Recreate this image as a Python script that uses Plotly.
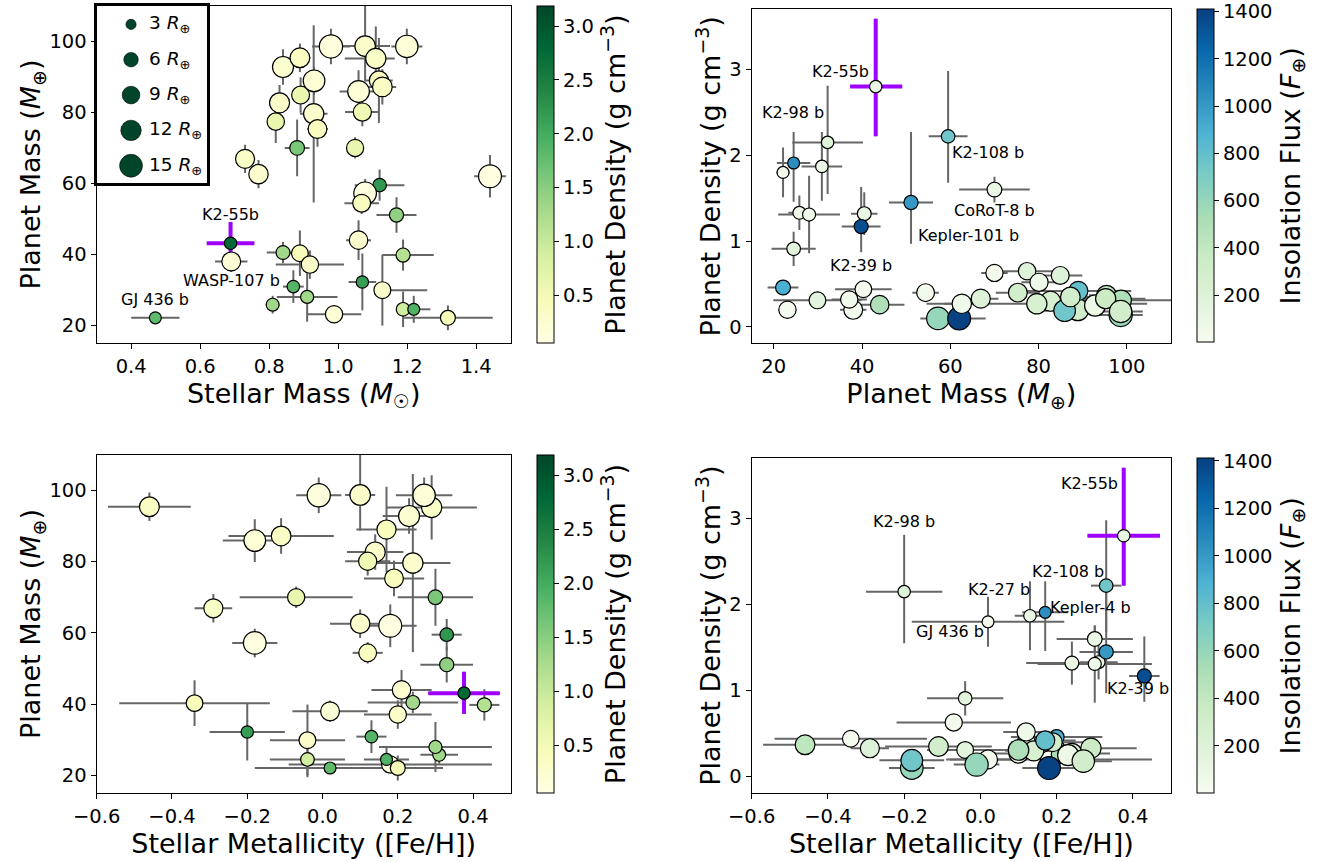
import numpy as np
import plotly.graph_objects as go

W, H = 1326, 862
nan = float("nan")

# ---------------- data ----------------
planet = [
    "GJ 436 b", "K2-55b", "WASP-107 b", "", "", "", "", "K2-27 b", "", "",
    "", "K2-98 b", "", "K2-39 b", "", "Kepler-4 b", "", "Kepler-101 b", "K2-108 b", "",
    "", "", "", "", "CoRoT-8 b", "", "", "", "", "",
    "", "", "", "", "", "", "", "", "", "",
    "", ""]

stellar_mass = [
    0.47, 0.688, 0.69, 0.81, 0.84, 0.889, 0.918, 0.87, 0.91, 0.988,
    1.059, 1.07, 1.128, 1.188, 1.188, 1.219, 1.318, 1.169, 1.12, 1.078,
    1.068, 1.44, 0.73, 0.769, 0.881, 1.049, 0.819, 0.83, 0.891, 0.929,
    0.94, 0.93, 0.84, 0.889, 0.979, 1.078, 1.109, 1.059, 1.118, 1.128,
    1.07, 1.199]
stellar_mass_err_lo = [
    0.07, 0.069, 0.047, 0.02, 0.047, 0.03, 0.099, 0.03, 0.088, 0.079,
    0.036, 0.04, 0.01, 0.06, 0.02, 0.031, 0.13, 0.058, 0.072, 0.03,
    0.05, 0.046, 0.02, 0.02, 0.036, 0.02, 0.02, 0.02, 0.02, 0.04,
    0.03, 0.03, 0.02, 0.03, 0.055, 0.072, 0.09, 0.055, 0.04, 0.04,
    0.05, 0.045]
stellar_mass_err_hi = [
    0.07, 0.069, 0.047, 0.02, 0.047, 0.03, 0.099, 0.03, 0.088, 0.079,
    0.036, 0.04, 0.13, 0.089, 0.02, 0.048, 0.13, 0.058, 0.072, 0.03,
    0.05, 0.046, 0.02, 0.02, 0.036, 0.02, 0.02, 0.02, 0.02, 0.04,
    0.03, 0.03, 0.02, 0.03, 0.055, 0.072, 0.055, 0.055, 0.04, 0.04,
    0.05, 0.045]

planet_mass = [
    22.1, 43.1, 38.0, 25.8, 40.5, 40.3, 37.1, 30.9, 28.0, 23.1,
    44.0, 32.2, 29.9, 39.8, 24.5, 24.5, 22.1, 51.1, 59.5, 57.2,
    54.4, 62.0, 66.9, 62.6, 70.0, 70.0, 77.4, 82.7, 84.9, 79.6,
    75.3, 88.9, 92.8, 95.4, 98.6, 98.7, 95.2, 85.9, 89.0, 87.2,
    80.1, 98.6]
planet_mass_err_lo = [
    1.5, 5.8, 3.0, 2.5, 3.0, 6.4, 4.0, 4.6, 7.0, 2.0,
    5.6, 8.0, 10.0, 4.4, 5.0, 3.8, 3.5, 5.0, 4.4, 4.0,
    3.0, 6.0, 4.0, 4.0, 8.0, 3.0, 6.0, 5.0, 5.0, 25.0,
    5.0, 4.0, 5.0, 4.0, 5.0, 10.0, 9.0, 6.0, 12.0, 5.0,
    4.0, 5.0]
planet_mass_err_hi = [
    1.5, 6.0, 3.0, 2.5, 3.0, 6.4, 4.0, 4.6, 7.0, 2.0,
    5.6, 8.0, 10.0, 4.4, 5.0, 3.8, 3.5, 5.0, 4.4, 4.0,
    3.0, 6.0, 4.0, 4.0, 8.0, 3.0, 6.0, 5.0, 5.0, 25.0,
    5.0, 4.0, 5.0, 4.0, 5.0, 15.0, 9.0, 6.0, 12.0, 5.0,
    4.0, 5.0]

metallicity = [
    0.02, 0.376, 0.02, 0.31, 0.24, -0.34, 0.20, 0.13, 0.30, 0.18,
    0.21, -0.20, -0.04, 0.43, -0.04, 0.17, 0.20, 0.33, 0.33, -0.18,
    0.12, 0.18, -0.29, 0.10, 0.30, -0.07, nan, 0.14, nan, 0.24,
    0.19, nan, 0.23, -0.46, -0.01, 0.10, 0.29, -0.18, 0.17, -0.11,
    0.12, 0.27]
metallicity_err = [
    0.20, 0.095, 0.10, 0.05, 0.12, 0.20, 0.09, 0.04, 0.15, 0.27,
    0.08, 0.10, 0.10, 0.04, 0.10, 0.06, 0.12, 0.07, 0.04, 0.06,
    0.04, 0.07, 0.05, 0.08, 0.10, 0.15, nan, 0.075, nan, 0.10,
    0.08, nan, 0.07, 0.11, 0.06, 0.04, 0.12, 0.085, 0.08, 0.14,
    0.06, 0.075]

density = [
    1.80, 2.80, 0.20, 1.33, 1.32, 0.44, 0.32, 1.87, 1.31, 0.20,
    0.26, 2.15, 0.31, 1.17, 0.91, 1.91, 0.46, 1.45, 2.22, 0.10,
    0.40, 0.10, 0.33, 0.27, 1.60, 0.63, 0.65, 0.30, 0.60, 0.27,
    0.40, 0.20, 0.25, 0.37, 0.14, 0.31, 0.33, 0.19, 0.42, 0.35,
    0.52, 0.18]
density_err_lo = [
    0.29, 0.58, 0.03, 0.20, 0.25, 0.05, 0.05, 0.40, 0.45, 0.03,
    0.04, 0.60, 0.06, 0.30, 0.20, 0.45, 0.05, 0.48, 0.54, 0.02,
    0.04, 0.02, 0.04, 0.04, 0.15, 0.04, 0.04, 0.04, 0.05, 0.05,
    0.04, 0.03, 0.03, 0.04, 0.02, 0.05, 0.04, 0.03, 0.05, 0.04,
    0.05, 0.03]
density_err_hi = [
    0.29, 0.79, 0.03, 0.20, 0.25, 0.05, 0.05, 0.40, 0.45, 0.03,
    0.04, 0.66, 0.06, 0.46, 0.20, 0.36, 0.05, 0.82, 0.76, 0.02,
    0.04, 0.02, 0.04, 0.04, 0.15, 0.04, 0.04, 0.04, 0.05, 0.05,
    0.04, 0.03, 0.03, 0.04, 0.02, 0.05, 0.04, 0.03, 0.05, 0.04,
    0.05, 0.03]

planet_radius = [
    4.1, 4.4, 10.2, 4.8, 5.5, 8.0, 8.6, 4.5, 4.9, 8.6,
    9.8, 4.4, 8.1, 5.7, 5.3, 4.1, 6.4, 5.8, 5.3, 14.7,
    9.1, 15.0, 10.4, 10.8, 6.2, 8.5, 8.7, 11.5, 9.2, 11.8,
    10.1, 13.5, 12.7, 11.2, 15.5, 12.1, 11.7, 13.5, 10.5, 11.1,
    9.5, 14.4]

insolation = [
    30, 110, 40, 80, 90, 20, 50, 100, 60, 10,
    500, 200, 150, 1350, 150, 1050, 900, 1000, 750, 600,
    40, 1400, 200, 60, 100, 30, 200, 250, 200, 250,
    300, 300, 80, 420, 600, 500, 350, 750, 800, 300,
    60, 300]

legend_radii = [3, 6, 9, 12, 15]

# annotation texts and their positions (data coordinates of each panel)
labels_tl = [("K2-55b", 0.688, 51.3), ("WASP-107 b", 0.691, 32.5), ("GJ 436 b", 0.47, 27.4)]
labels_tr = [("K2-55b", 35.2, 2.98), ("K2-98 b", 24.35, 2.50), ("K2-108 b", 68.5, 2.03),
             ("CoRoT-8 b", 69.9, 1.355), ("Kepler-101 b", 64.2, 1.067), ("K2-39 b", 39.85, 0.72)]
labels_br = [("K2-55b", 0.286, 3.405), ("K2-98 b", -0.20, 2.96), ("K2-108 b", 0.231, 2.39),
             ("K2-27 b", 0.0496, 2.18), ("Kepler-4 b", 0.29, 1.97), ("GJ 436 b", -0.08, 1.687),
             ("K2-39 b", 0.414, 1.03)]

# ---------------- styles ----------------
FONT = "DejaVu Sans"
TICK_SIZE = 19.5
TITLE_SIZE = 27
LABEL_SIZE = 16
YLGN = ["#ffffe5", "#f7fcb9", "#d9f0a3", "#addd8e", "#78c679", "#41ab5d", "#238443", "#006837", "#004529"]
GNBU = ["#f7fcf0", "#e0f3db", "#ccebc5", "#a8ddb5", "#7bccc4", "#4eb3d3", "#2b8cbe", "#0868ac", "#084081"]
ylgn = [[i / 8, c] for i, c in enumerate(YLGN)]
gnbu = [[i / 8, c] for i, c in enumerate(GNBU)]
ERR_COLOR = "#666666"
HIGHLIGHT = "#a000ff"
SIZEREF = 2 / 5.9 ** 2
RHO_MIN, RHO_MAX = 0.057, 3.186
F_MIN, F_MAX = 0, 1410

k55 = planet.index("K2-55b")


def px(v, total):
    return v / total


def cbar(title, top, bottom, x_left, tickvals, fmt):
    return dict(
        x=px(x_left, W), xanchor="left", xref="paper", y=1 - px(top, H), yanchor="top", yref="paper",
        len=px(bottom - top, H), lenmode="fraction", thickness=16.6, thicknessmode="pixels",
        xpad=0, ypad=0, outlinewidth=1, outlinecolor="black",
        ticks="outside", ticklen=5, tickwidth=1.2, tickcolor="black",
        tickvals=tickvals, tickformat=fmt,
        tickfont=dict(size=TICK_SIZE, color="black", family=FONT),
        title=dict(text=title, side="right", font=dict(size=TITLE_SIZE, color="black", family=FONT)),
    )


fig = go.Figure()


def add_panel(xs, xlo, xhi, ys, ylo, yhi, cvals, cscale, cmin, cmax, cb, xa, ya):
    # gray error bars
    fig.add_trace(go.Scatter(
        x=xs, y=ys, mode="markers", xaxis=xa, yaxis=ya, showlegend=False, hoverinfo="skip",
        marker=dict(size=2, opacity=0),
        error_x=dict(type="data", symmetric=False, array=xhi, arrayminus=xlo,
                     color=ERR_COLOR, thickness=2, width=0),
        error_y=dict(type="data", symmetric=False, array=yhi, arrayminus=ylo,
                     color=ERR_COLOR, thickness=2, width=0),
    ))
    # highlighted K2-55b error bars
    fig.add_trace(go.Scatter(
        x=[xs[k55]], y=[ys[k55]], mode="markers", xaxis=xa, yaxis=ya, showlegend=False,
        hoverinfo="skip", marker=dict(size=2, opacity=0),
        error_x=dict(type="data", symmetric=False, array=[xhi[k55]], arrayminus=[xlo[k55]],
                     color=HIGHLIGHT, thickness=4, width=0),
        error_y=dict(type="data", symmetric=False, array=[yhi[k55]], arrayminus=[ylo[k55]],
                     color=HIGHLIGHT, thickness=4, width=0),
    ))
    # planets
    fig.add_trace(go.Scatter(
        x=xs, y=ys, mode="markers", xaxis=xa, yaxis=ya, showlegend=False, text=planet,
        marker=dict(size=planet_radius, sizemode="area", sizeref=SIZEREF,
                    color=cvals, colorscale=cscale, cmin=cmin, cmax=cmax,
                    line=dict(color="black", width=1.2), opacity=1,
                    showscale=True, colorbar=cb),
    ))


# Top-left: stellar mass vs planet mass, colored by density
add_panel(stellar_mass, stellar_mass_err_lo, stellar_mass_err_hi,
          planet_mass, planet_mass_err_lo, planet_mass_err_hi,
          density, ylgn, RHO_MIN, RHO_MAX,
          cbar("Planet Density (g cm<sup>−3</sup>)", 6, 342.7, 536.7,
               [0.5, 1.0, 1.5, 2.0, 2.5, 3.0], ".1f"), "x", "y")
# Top-right: planet mass vs density, colored by insolation
add_panel(planet_mass, planet_mass_err_lo, planet_mass_err_hi,
          density, density_err_lo, density_err_hi,
          insolation, gnbu, F_MIN, F_MAX,
          cbar("Insolation Flux (<i>F</i><sub>⊕</sub>)", 9.3, 342.7, 1197.3,
               [200, 400, 600, 800, 1000, 1200, 1400], "d"), "x2", "y2")
# Bottom-left: metallicity vs planet mass, colored by density
add_panel(metallicity, metallicity_err, metallicity_err,
          planet_mass, planet_mass_err_lo, planet_mass_err_hi,
          density, ylgn, RHO_MIN, RHO_MAX,
          cbar("Planet Density (g cm<sup>−3</sup>)", 455, 793, 536.7,
               [0.5, 1.0, 1.5, 2.0, 2.5, 3.0], ".1f"), "x3", "y3")
# Bottom-right: metallicity vs density, colored by insolation
add_panel(metallicity, metallicity_err, metallicity_err,
          density, density_err_lo, density_err_hi,
          insolation, gnbu, F_MIN, F_MAX,
          cbar("Insolation Flux (<i>F</i><sub>⊕</sub>)", 458.3, 793, 1197.3,
               [200, 400, 600, 800, 1000, 1200, 1400], "d"), "x4", "y4")

# Size legend (drawn in its own small box inside the top-left panel)
leg_y = list(np.linspace(0.896, 0.096, len(legend_radii)))
fig.add_trace(go.Scatter(
    x=[0.312] * len(legend_radii), y=leg_y, mode="markers", xaxis="x5", yaxis="y5",
    showlegend=False, hoverinfo="skip",
    marker=dict(size=legend_radii, sizemode="area", sizeref=SIZEREF, color=YLGN[-1],
                opacity=1, line=dict(color="black", width=0.6)),
))

axis_common = dict(
    showline=True, linecolor="black", linewidth=1.3, mirror=True,
    ticks="outside", ticklen=5, tickwidth=1.3, tickcolor="black",
    showgrid=False, zeroline=False, automargin=False,
    tickfont=dict(size=TICK_SIZE, color="black", family=FONT),
)


def title(text, standoff):
    return dict(text=text, font=dict(size=TITLE_SIZE, color="black", family=FONT), standoff=standoff)


mass_ticks = [20, 40, 60, 80, 100]
feh_ticks = [-0.6, -0.4, -0.2, 0.0, 0.2, 0.4]
rho_ticks = [0, 1, 2, 3]
XSTAND, YSTAND = 6, 0

fig.update_layout(
    width=W, height=H, margin=dict(l=0, r=0, t=0, b=0, autoexpand=False),
    paper_bgcolor="white", plot_bgcolor="white",
    font=dict(family=FONT, color="black"),
    xaxis=dict(axis_common, domain=[px(96.7, W), px(510.7, W)], range=[0.3, 1.5],
               tickvals=[0.4, 0.6, 0.8, 1.0, 1.2, 1.4], tickformat=".1f", anchor="y",
               title=title("Stellar Mass (<i>M</i><sub>☉</sub>)", XSTAND)),
    yaxis=dict(axis_common, domain=[1 - px(343, H), 1 - px(6, H)], range=[15, 110],
               tickvals=mass_ticks, anchor="x",
               title=title("Planet Mass (<i>M</i><sub>⊕</sub>)", YSTAND)),
    xaxis2=dict(axis_common, domain=[px(751.7, W), px(1171, W)], range=[15, 110],
                tickvals=mass_ticks, anchor="y2",
                title=title("Planet Mass (<i>M</i><sub>⊕</sub>)", XSTAND)),
    yaxis2=dict(axis_common, domain=[1 - px(343.3, H), 1 - px(9.3, H)], range=[-0.19, 3.7],
                tickvals=rho_ticks, anchor="x2",
                title=title("Planet Density (g cm<sup>−3</sup>)", YSTAND)),
    xaxis3=dict(axis_common, domain=[px(96.7, W), px(510.7, W)], range=[-0.6, 0.5],
                tickvals=feh_ticks, tickformat=".1f", anchor="y3",
                title=title("Stellar Metallicity ([Fe/H])", XSTAND)),
    yaxis3=dict(axis_common, domain=[1 - px(793.3, H), 1 - px(454.7, H)], range=[15, 110],
                tickvals=mass_ticks, anchor="x3",
                title=title("Planet Mass (<i>M</i><sub>⊕</sub>)", YSTAND)),
    xaxis4=dict(axis_common, domain=[px(751.7, W), px(1171, W)], range=[-0.6, 0.5],
                tickvals=feh_ticks, tickformat=".1f", anchor="y4",
                title=title("Stellar Metallicity ([Fe/H])", XSTAND)),
    yaxis4=dict(axis_common, domain=[1 - px(793, H), 1 - px(458.3, H)], range=[-0.19, 3.7],
                tickvals=rho_ticks, anchor="x4",
                title=title("Planet Density (g cm<sup>−3</sup>)", YSTAND)),
    xaxis5=dict(domain=[px(96.7, W), px(206.7, W)], range=[0, 1], anchor="y5",
                showline=True, linecolor="black", linewidth=2.6, mirror=True, automargin=False,
                showticklabels=False, ticks="", showgrid=False, zeroline=False, fixedrange=True),
    yaxis5=dict(domain=[1 - px(182.7, H), 1 - px(6, H)], range=[0, 1], anchor="x5",
                showline=True, linecolor="black", linewidth=2.6, mirror=True, automargin=False,
                showticklabels=False, ticks="", showgrid=False, zeroline=False, fixedrange=True),
)

annotations = []
for r, yy in zip(legend_radii, leg_y):
    annotations.append(dict(text=f"{r} <i>R</i><sub>⊕</sub>", x=0.455, y=yy, xref="x5", yref="y5",
                            xanchor="left", yanchor="middle", showarrow=False,
                            font=dict(size=18.5, color="black", family=FONT)))
for lst, xr, yr in [(labels_tl, "x", "y"), (labels_tr, "x2", "y2"), (labels_br, "x4", "y4")]:
    for txt, lx, ly in lst:
        annotations.append(dict(text=txt, x=lx, y=ly, xref=xr, yref=yr, showarrow=False,
                                xanchor="center", yanchor="middle",
                                font=dict(size=LABEL_SIZE, color="black", family=FONT)))
fig.update_layout(annotations=annotations)

# remove the browser's default page margin so the figure fills the window exactly
fig.write_html("out.html", config={"displayModeBar": False},
               post_script="document.body.style.margin='0';")
